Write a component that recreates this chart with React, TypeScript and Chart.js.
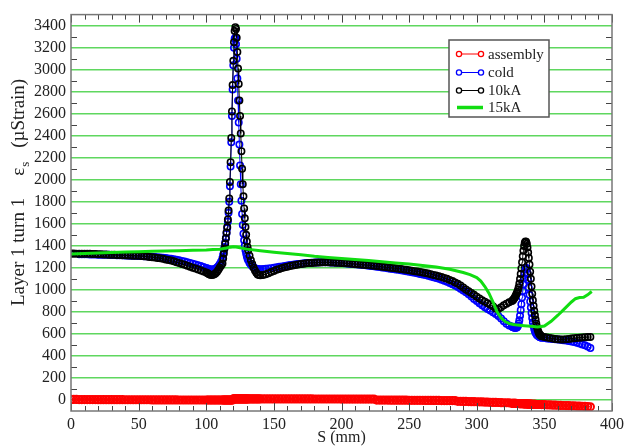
import React, { useEffect, useRef } from 'react';
import { Chart, registerables } from 'chart.js';

Chart.register(...registerables);

// S positions (mm) shared by the marker series
const S_MAIN = [
  0, 2, 4, 6, 8, 10, 12, 14, 16, 18, 20, 22, 24, 26, 28, 30, 32, 34, 36, 38,
  40, 42, 44, 46, 48, 50, 52, 54, 56, 58, 60, 62, 64, 66, 68, 70, 72, 74, 76, 78,
  80, 82, 84, 86, 88, 90, 92, 94, 96, 98,
  100, 101, 102, 103, 104, 105, 106, 107, 108, 109, 110, 111,
  112, 112.5, 113, 113.5, 114, 114.5, 115, 115.5, 116, 116.5, 117, 117.5, 118, 118.5, 119, 119.5,
  120, 120.5, 121, 121.5, 122, 122.5, 123, 123.5, 124, 124.5, 125, 125.5, 126, 126.5, 127, 127.5,
  128, 128.5, 129, 129.5, 130, 130.5,
  131, 132, 133, 134, 135, 136, 137, 138, 139,
  140, 142, 144, 146, 148, 150, 152, 154, 156, 158, 160, 162, 164, 166, 168, 170, 172, 174, 176, 178,
  180, 182, 184, 186, 188, 190, 192, 194, 196, 198, 200, 202, 204, 206, 208, 210, 212, 214, 216, 218,
  220, 222, 224, 226, 228, 230, 232, 234, 236, 238, 240, 242, 244, 246, 248, 250, 252, 254, 256, 258,
  260, 262, 264, 266, 268, 270, 272, 274, 276, 278, 280, 282, 284, 286, 288, 290, 292, 294, 296, 298,
  300, 302, 304, 306, 308, 310, 312, 314, 316, 318, 320, 322, 324,
  326, 326.5, 327, 327.5, 328, 328.5, 329, 329.5, 330, 330.5, 331, 331.5, 332, 332.5, 333, 333.5,
  334, 334.5, 335, 335.5, 336, 336.5, 337, 337.5, 338, 338.5, 339, 339.5, 340, 340.5, 341, 341.5,
  342, 342.5, 343, 343.5, 344, 344.5, 345, 345.5, 346, 346.5, 347, 347.5,
  348, 350, 352, 354, 356, 358, 360, 362, 364, 366, 368, 370, 372, 374, 376, 378, 380, 382, 384,
];

const Y_ASSEMBLY = [
  5, 5, 5, 4, 4, 4, 4, 4, 4, 4, 3, 3, 3, 3, 3, 3, 3, 3, 3, 3,
  2, 2, 2, 2, 2, 2, 2, 2, 2, 2, 1, 1, 1, 1, 1, 1, 1, 1, 1, 1,
  0, 0, 0, 0, 0, 0, 0, 0, 0, 0,
  0, 0, 0, 0, 0, 0, 0, 0, 0, 0, 0, 0,
  0, 0, 0, 0, 0, 0, 0, 0, 0, 0, 0, 0, 0, 0, 0, 0,
  10, 10, 10, 10, 10, 10, 10, 10, 10, 10, 10, 10, 10, 10, 10, 10,
  10, 10, 10, 10, 10, 10,
  10, 10, 10, 10, 10, 10, 10, 10, 10,
  10, 10, 10, 10, 10, 10, 10, 10, 10, 10, 10, 10, 10, 10, 10, 10, 10, 10, 10, 10,
  9, 9, 9, 9, 9, 9, 9, 9, 9, 9, 8, 8, 8, 8, 8, 8, 8, 8, 8, 8,
  8, 8, 8, -1, -1, -1, -1, -1, -2, -2, -2, -2, -2, -2, -2, -3, -3, -3, -3, -3,
  -3, -4, -4, -4, -4, -4, -4, -5, -5, -5, -5, -5, -6, -12, -12, -13, -13, -14, -15, -15,
  -16, -17, -18, -19, -20, -21, -22, -22, -23, -24, -25, -25, -26,
  -30, -30, -30, -31, -31, -31, -31, -32, -32, -32, -32, -33, -33, -33, -34, -34,
  -34, -35, -35, -35, -36, -36, -36, -37, -37, -37, -38, -38, -38, -39, -39, -39,
  -40, -40, -40, -40, -41, -41, -41, -41, -41, -41, -41, -41,
  -42, -43, -44, -45, -46, -47, -48, -49, -50, -51, -52, -53, -54, -55, -56, -57, -58, -60, -62,
];

const Y_COLD = [
  1325, 1325, 1325, 1324, 1324, 1323, 1323, 1322, 1322, 1321, 1320, 1320, 1319, 1318, 1318, 1317, 1316, 1315, 1315, 1314,
  1313, 1312, 1311, 1310, 1309, 1308, 1307, 1306, 1305, 1303, 1301, 1299, 1297, 1295, 1292, 1289, 1286, 1282, 1278, 1273,
  1268, 1263, 1257, 1251, 1245, 1238, 1231, 1224, 1216, 1207,
  1199, 1194, 1189, 1186, 1184, 1185, 1188, 1194, 1203, 1216, 1234, 1258,
  1290, 1320, 1355, 1390, 1430, 1470, 1515, 1560, 1620, 1700, 1800, 1940, 2120, 2340, 2580, 2820,
  3040, 3200, 3280, 3290, 3230, 3100, 2920, 2720, 2520, 2320, 2130, 1960, 1810, 1690, 1590, 1510,
  1450, 1400, 1360, 1330, 1305, 1285,
  1268, 1245, 1228, 1215, 1205, 1197, 1192, 1189, 1188,
  1188, 1189, 1191, 1194, 1197, 1201, 1205, 1209, 1213, 1217, 1221, 1225, 1229, 1232, 1235, 1238, 1241, 1243, 1245, 1247,
  1248, 1249, 1250, 1250, 1250, 1250, 1249, 1248, 1247, 1246, 1244, 1242, 1240, 1238, 1236, 1233, 1231, 1228, 1226, 1223,
  1220, 1217, 1214, 1211, 1208, 1204, 1201, 1197, 1193, 1190, 1186, 1182, 1178, 1174, 1170, 1165, 1160, 1155, 1150, 1145,
  1140, 1134, 1128, 1122, 1115, 1108, 1100, 1092, 1083, 1073, 1063, 1052, 1040, 1026, 1011, 995, 978, 960, 940, 918,
  898, 878, 860, 843, 827, 812, 797, 781, 762, 740, 716, 692, 676,
  668, 664, 661, 659, 657, 656, 656, 658, 664, 675, 695, 725, 765, 815, 870, 930,
  990, 1050, 1105, 1150, 1185, 1200, 1190, 1150, 1090, 1020, 955, 895, 840, 790, 745, 705,
  672, 645, 625, 610, 599, 591, 585, 580, 576, 573, 570, 568,
  566, 562, 559, 556, 553, 551, 549, 546, 543, 540, 536, 531, 526, 520, 513, 505, 496, 485, 472,
];

const Y_10KA = [
  1330, 1330, 1329, 1329, 1328, 1328, 1327, 1327, 1326, 1325, 1324, 1323, 1322, 1321, 1320, 1319, 1318, 1317, 1316, 1315,
  1314, 1313, 1312, 1311, 1310, 1309, 1307, 1305, 1302, 1299, 1296, 1293, 1290, 1287, 1282, 1277, 1272, 1266, 1259, 1252,
  1244, 1236, 1228, 1220, 1211, 1202, 1194, 1185, 1176, 1166,
  1157, 1150, 1143, 1138, 1135, 1137, 1143, 1152, 1165, 1182, 1203, 1222,
  1240, 1285, 1330, 1375, 1420, 1470, 1520, 1570, 1640, 1720, 1830, 1980, 2160, 2380, 2620, 2860,
  3080, 3250, 3350, 3385, 3370, 3290, 3160, 3010, 2870, 2720, 2580, 2420, 2260, 2100, 1960, 1850,
  1740, 1650, 1570, 1500, 1440, 1390,
  1360, 1310, 1270, 1235, 1200, 1175, 1155, 1140, 1135,
  1133, 1135, 1142, 1152, 1162, 1172, 1182, 1190, 1198, 1205, 1211, 1217, 1222, 1227, 1231, 1235, 1238, 1241, 1243, 1245,
  1247, 1248, 1249, 1250, 1250, 1250, 1249, 1248, 1247, 1246, 1245, 1243, 1241, 1239, 1237, 1235, 1233, 1231, 1229, 1227,
  1225, 1222, 1220, 1217, 1214, 1211, 1208, 1205, 1202, 1199, 1196, 1193, 1190, 1186, 1182, 1178, 1174, 1170, 1166, 1162,
  1158, 1153, 1148, 1142, 1136, 1130, 1123, 1116, 1108, 1100, 1090, 1080, 1068, 1055, 1040, 1022, 1004, 988, 972, 955,
  938, 922, 906, 892, 878, 866, 852, 830, 826, 842, 860, 874, 888,
  898, 904, 911, 919, 928, 940, 954, 968, 984, 1000, 1025, 1058, 1098, 1145, 1195, 1250,
  1305, 1355, 1398, 1428, 1440, 1438, 1420, 1385, 1340, 1290, 1230, 1165, 1100, 1030, 965, 905,
  855, 810, 770, 730, 695, 665, 640, 620, 605, 595, 588, 582,
  578, 572, 567, 563, 558, 554, 551, 550, 550, 552, 555, 558, 561, 564, 566, 568, 570, 571, 572,
];

// 15kA curve (line only)
const S_15KA = [
  0, 10, 20, 30, 40, 50, 60, 70, 80, 90, 100, 105, 110, 115, 118, 120, 122, 125, 130, 140,
  150, 160, 170, 180, 190, 200, 210, 220, 230, 240, 250, 260, 270, 280, 290, 295, 300, 303, 306, 309,
  312, 315, 318, 321, 324, 327, 330, 335, 340, 345, 350, 355, 360, 365, 370, 373, 376, 379, 382, 385,
];
const Y_15KA = [
  1325, 1330, 1335, 1340, 1343, 1347, 1350, 1353, 1356, 1360, 1363, 1366, 1370, 1380, 1388, 1392, 1390, 1382, 1370, 1355,
  1342, 1330, 1318, 1305, 1295, 1285, 1276, 1266, 1255, 1245, 1234, 1222, 1207, 1188, 1158, 1138, 1112, 1080, 1030, 970,
  890, 800, 745, 712, 695, 685, 680, 675, 670, 664, 672, 715, 770, 830, 890, 920, 930, 932, 955, 985,
];

const SERIES_LABELS = ['assembly', 'cold', '10kA', '15kA'];
const X_TICKS = [0, 50, 100, 150, 200, 250, 300, 350, 400];
const Y_TICKS = [0, 200, 400, 600, 800, 1000, 1200, 1400, 1600, 1800, 2000, 2200, 2400, 2600, 2800, 3000, 3200, 3400];
const Y_TITLE_PARTS = ['Layer 1 turn 1', 'ε', 's', '(µStrain)'];
const X_TITLE = 'S (mm)';

const FONT = '"Liberation Serif", "Times New Roman", serif';
const TEXT_COLOR = '#222';
const COLORS = ['#ff0000', '#0000ff', '#000000', '#11dd11'];

const decorPlugin = {
  id: 'decor',
  afterDatasetsDraw(chart: any) {
    const { ctx, chartArea: a, scales } = chart;
    const xs = scales.x;
    const ys = scales.y;
    ctx.save();
    const seg = (x1: number, y1: number, x2: number, y2: number) => {
      ctx.beginPath();
      ctx.moveTo(x1, y1);
      ctx.lineTo(x2, y2);
      ctx.stroke();
    };
    ctx.strokeStyle = '#444';
    ctx.lineWidth = 1;
    for (let v = xs.min; v <= xs.max; v += 10) {
      const px = Math.round(xs.getPixelForValue(v)) + 0.5;
      const len = v % 50 === 0 ? 8 : 5;
      seg(px, a.bottom, px, a.bottom - len);
      seg(px, a.top, px, a.top + len);
    }
    for (let v = 100; v < ys.max; v += 200) {
      const py = Math.round(ys.getPixelForValue(v)) + 0.5;
      seg(a.left, py, a.left + 6, py);
      seg(a.right, py, a.right - 6, py);
    }
    // frame
    ctx.strokeStyle = '#777';
    ctx.lineWidth = 1.5;
    ctx.strokeRect(a.left, a.top, a.right - a.left, a.bottom - a.top);

    // legend
    const bx = 449, by = 40, bw = 100, bh = 77;
    ctx.fillStyle = '#fff';
    ctx.fillRect(bx, by, bw, bh);
    ctx.strokeStyle = '#555';
    ctx.lineWidth = 1.5;
    ctx.strokeRect(bx, by, bw, bh);
    const rows = [54, 72.5, 90.5, 107.5];
    ctx.font = `15px ${FONT}`;
    ctx.textBaseline = 'middle';
    ctx.textAlign = 'left';
    SERIES_LABELS.forEach((lab, i) => {
      const y = rows[i];
      ctx.strokeStyle = COLORS[i];
      if (i < 3) {
        ctx.lineWidth = 1;
        seg(459, y, 481, y);
        ctx.lineWidth = 1.3;
        [459, 481].forEach((cx) => {
          ctx.beginPath();
          ctx.arc(cx, y, 2.6, 0, Math.PI * 2);
          ctx.fillStyle = '#fff';
          ctx.fill();
          ctx.stroke();
        });
      } else {
        ctx.lineWidth = 3.5;
        seg(457, y, 483, y);
      }
      ctx.fillStyle = TEXT_COLOR;
      ctx.fillText(lab, 488, y + 1);
    });

    // y title
    ctx.translate(19, 306);
    ctx.rotate(-Math.PI / 2);
    ctx.fillStyle = TEXT_COLOR;
    ctx.textBaseline = 'middle';
    ctx.font = `19px ${FONT}`;
    let x = 0;
    ctx.fillText(Y_TITLE_PARTS[0], x, 0);
    x += ctx.measureText(Y_TITLE_PARTS[0]).width + 22;
    ctx.fillText(Y_TITLE_PARTS[1], x, 0);
    x += ctx.measureText(Y_TITLE_PARTS[1]).width + 1;
    ctx.font = `13px ${FONT}`;
    ctx.fillText(Y_TITLE_PARTS[2], x, 7);
    x += ctx.measureText(Y_TITLE_PARTS[2]).width + 14;
    ctx.font = `19px ${FONT}`;
    ctx.fillText(Y_TITLE_PARTS[3], x, 0);
    ctx.restore();
  },
};

export default function App() {
  const ref = useRef<HTMLCanvasElement>(null);
  useEffect(() => {
    const canvas = ref.current;
    if (!canvas) return;
    const pts = (xs: number[], ys: number[]) => xs.map((x, i) => ({ x, y: ys[i] }));
    const markerDs = (i: number, ys: number[], order: number, r: number, bw: number) => ({
      label: SERIES_LABELS[i],
      data: pts(S_MAIN, ys),
      borderColor: COLORS[i],
      borderWidth: 1,
      pointRadius: r,
      pointBorderWidth: bw,
      pointBackgroundColor: 'rgba(0,0,0,0)',
      pointBorderColor: COLORS[i],
      tension: 0,
      order,
    });
    const chart = new Chart(canvas, {
      type: 'line',
      data: {
        datasets: [
          markerDs(0, Y_ASSEMBLY, 3, 3.6, 2),
          markerDs(1, Y_COLD, 2, 3.2, 1.6),
          markerDs(2, Y_10KA, 1, 3.2, 1.6),
          {
            label: SERIES_LABELS[3],
            data: pts(S_15KA, Y_15KA),
            borderColor: COLORS[3],
            borderWidth: 3,
            pointRadius: 0,
            tension: 0,
            order: 0,
          },
        ],
      },
      options: {
        responsive: false,
        animation: false,
        events: [],
        layout: { padding: { left: 0, top: 12, right: 21, bottom: 0 } },
        plugins: { legend: { display: false }, tooltip: { enabled: false } },
        scales: {
          x: {
            type: 'linear',
            min: 0,
            max: 400,
            afterBuildTicks: (s: any) => {
              s.ticks = X_TICKS.map((v) => ({ value: v }));
            },
            afterFit: (s: any) => {
              s.height = 36;
            },
            grid: { display: false, drawTicks: false },
            border: { display: false },
            ticks: {
              padding: 4,
              color: TEXT_COLOR,
              font: { family: FONT, size: 16 },
              maxRotation: 0,
              autoSkip: false,
              callback: (v: any) => String(v),
            },
            title: { display: true, text: X_TITLE, color: TEXT_COLOR, font: { family: FONT, size: 16 }, padding: 0 },
          },
          y: {
            type: 'linear',
            min: -100,
            max: 3500,
            afterBuildTicks: (s: any) => {
              s.ticks = Y_TICKS.map((v) => ({ value: v }));
            },
            afterFit: (s: any) => {
              s.width = 71;
            },
            grid: { color: 'rgb(95,215,95)', lineWidth: 1.6, drawTicks: false },
            border: { display: false },
            ticks: {
              padding: 5,
              color: TEXT_COLOR,
              font: { family: FONT, size: 16 },
              autoSkip: false,
              callback: (v: any) => String(v),
            },
          },
        },
      },
      plugins: [decorPlugin],
    } as any);
    return () => chart.destroy();
  }, []);
  return (
    <div style={{ position: 'fixed', left: 0, top: 0, width: 633, height: 447, background: '#fff' }}>
      <canvas ref={ref} width={633} height={447} style={{ display: 'block' }} />
    </div>
  );
}
